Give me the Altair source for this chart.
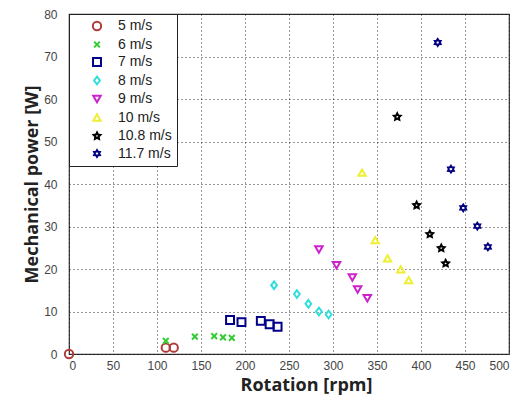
import math
import altair as alt
import pandas as pd

speeds = ["5 m/s", "6 m/s", "7 m/s", "8 m/s", "9 m/s", "10 m/s", "10.8 m/s", "11.7 m/s"]

rpm_5 = [0, 110, 119]
pw_5 = [0.0, 1.5, 1.5]
rpm_6 = [110, 143, 165, 175, 185]
pw_6 = [3.1, 4.1, 4.2, 3.9, 3.8]
rpm_7 = [183, 196, 218, 228, 237]
pw_7 = [8.0, 7.5, 7.8, 7.0, 6.4]
rpm_8 = [233, 259, 272, 284, 295]
pw_8 = [16.2, 14.1, 11.8, 10.0, 9.3]
rpm_9 = [284, 304, 322, 328, 339]
pw_9 = [24.6, 20.9, 18.0, 15.2, 13.1]
rpm_10 = [333, 348, 362, 377, 386]
pw_10 = [42.7, 26.8, 22.5, 19.9, 17.4]
rpm_108 = [373, 395, 410, 423, 428]
pw_108 = [55.8, 35.0, 28.2, 24.9, 21.3]
rpm_117 = [419, 434, 448, 464, 476]
pw_117 = [73.3, 43.5, 34.4, 30.1, 25.2]

series_rpm = [rpm_5, rpm_6, rpm_7, rpm_8, rpm_9, rpm_10, rpm_108, rpm_117]
series_pw = [pw_5, pw_6, pw_7, pw_8, pw_9, pw_10, pw_108, pw_117]

rows = []
for s, xs, ys in zip(speeds, series_rpm, series_pw):
    for x, y in zip(xs, ys):
        rows.append({"speed": s, "rpm": x, "power": y})
df = pd.DataFrame(rows)


def star_path(n, r_in):
    pts = []
    for i in range(2 * n):
        r = 1.0 if i % 2 == 0 else r_in
        a = -math.pi / 2 + i * math.pi / n
        pts.append(f"{r * math.cos(a):.3f},{r * math.sin(a):.3f}")
    return "M" + "L".join(pts) + "Z"


x_shape = "M-0.7,-0.7L0.7,0.7M-0.7,0.7L0.7,-0.7"
diamond = "M0,-1L0.75,0L0,1L-0.75,0Z"
shapes = ["circle", x_shape, "square", diamond, "triangle-down", "triangle-up",
          star_path(5, 0.5), star_path(6, 0.62)]
colors = ["#b03a3a", "#33cc33", "#00008b", "#33dddd", "#cc22cc", "#eeee33", "#000000", "#000080"]
sizes = [70, 45, 90, 90, 100, 100, 60, 60]

chart = (
    alt.Chart(df)
    .mark_point(filled=False, strokeWidth=2, opacity=1)
    .encode(
        x=alt.X("rpm:Q", scale=alt.Scale(domain=[0, 500], nice=False),
                axis=alt.Axis(title="Rotation [rpm]", values=list(range(0, 501, 50)),
                              titleX=237, titleY=22)),
        y=alt.Y("power:Q", scale=alt.Scale(domain=[0, 80], nice=False),
                axis=alt.Axis(title="Mechanical power [W]", values=list(range(0, 81, 10)),
                              titlePadding=2)),
        color=alt.Color("speed:N", scale=alt.Scale(domain=speeds, range=colors),
                        legend=alt.Legend(title=None)),
        shape=alt.Shape("speed:N", scale=alt.Scale(domain=speeds, range=shapes),
                        legend=alt.Legend(title=None)),
        size=alt.Size("speed:N", scale=alt.Scale(domain=speeds, range=sizes),
                      legend=alt.Legend(title=None)),
    )
    .properties(
        width=440, height=340,
        autosize=alt.AutoSizeParams(type="none"),
        padding={"left": 61, "top": 6, "right": 4, "bottom": 42},
    )
    .configure_view(stroke="#333", strokeWidth=1.2)
    .configure_axis(
        grid=True, gridColor="#000", gridDash=[1, 3], gridOpacity=0.8, gridWidth=1,
        ticks=False, tickSize=0, domain=False,
        labelFont="Liberation Sans", labelFontSize=12, labelColor="#444", labelPadding=12,
        titleFont="Open Sans", titleFontSize=18, titleFontWeight="bold", titleColor="#222",
    )
    .configure_axisX(labelPadding=6)
    .configure_legend(
        orient="top-left", offset=0, padding=5, fillColor="white", strokeColor="#222",
        strokeWidth=1, labelFont="Liberation Sans", labelFontSize=14, labelColor="#222",
        symbolStrokeWidth=2, symbolOffset=16, labelOffset=14, rowPadding=2.5,
    )
)

chart.save("out.html", embed_options={"renderer": "svg", "actions": False})
